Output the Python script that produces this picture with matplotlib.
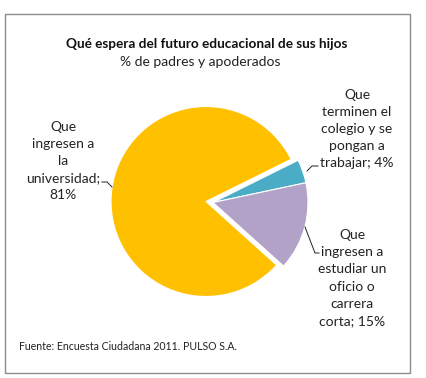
import matplotlib
matplotlib.use("Agg")
import matplotlib.pyplot as plt
from matplotlib.patches import Rectangle

# ---- data ----
categories = ["Que ingresen a la universidad",
              "Que terminen el colegio y se pongan a trabajar",
              "Que ingresen a estudiar un oficio o carrera corta"]
values = [81, 4, 15]
label_texts = ["Que\ningresen a\nla\nuniversidad;\n81%",
               "Que\nterminen el\ncolegio y se\npongan a\ntrabajar; 4%",
               "Que\ningresen a\nestudiar un\noficio o\ncarrera\ncorta; 15%"]
colors = ["#FFC000", "#4BACC6", "#B3A2C7"]
title = "Qué espera del futuro educacional de sus hijos"
subtitle = "% de padres y apoderados"
source = "Fuente: Encuesta Ciudadana 2011. PULSO S.A."

plt.rcParams['font.family'] = ['Lato', 'DejaVu Sans']

W, H = 426, 378
fig = plt.figure(figsize=(W / 100, H / 100), dpi=100)
ax = fig.add_axes([0, 0, 1, 1])

def Y(y):
    return H - y

cx, cy, r = 206, Y(201.5), 95
wedges, _ = ax.pie(values, colors=colors, radius=r, center=(cx, cy),
                   startangle=-42, counterclock=False, frame=False,
                   wedgeprops=dict(edgecolor="white", linewidth=0.8))
for w in wedges[1:]:
    w.set_center((cx + 7, cy - 1))

ax.set_xlim(0, W)
ax.set_ylim(0, H)
ax.set_aspect("auto")
ax.axis("off")

# border
ax.add_patch(Rectangle((4.5, Y(372.5)), 405.5, 358.5, fill=False,
                       edgecolor="#8c8c8c", linewidth=1.0))

ax.text(207, Y(44), title, ha="center", va="center", fontsize=9.8,
        fontweight="bold", color="#111111")
ax.text(200, Y(62), subtitle, ha="center", va="center", fontsize=10,
        color="#222222")

lab_kw = dict(ha="center", va="center", fontsize=10, color="#222222",
              linespacing=1.52)
ax.text(63, Y(161), label_texts[0], **lab_kw)
ax.text(357, Y(129), label_texts[1], **lab_kw)
ax.text(352, Y(278), label_texts[2], **lab_kw)

# leader lines
ax.plot([102, 107, 112], [Y(182), Y(182), Y(187)], color="#222222", lw=0.7)
ax.plot([307, 312, 318], [Y(171), Y(166), Y(166)], color="#222222", lw=0.7)
ax.plot([305, 315, 319], [Y(227), Y(253), Y(253)], color="#222222", lw=0.7)

ax.text(19, Y(347), source, ha="left", va="center", fontsize=7.6,
        color="#222222")

fig.savefig("out.png", dpi=100, facecolor="white")
